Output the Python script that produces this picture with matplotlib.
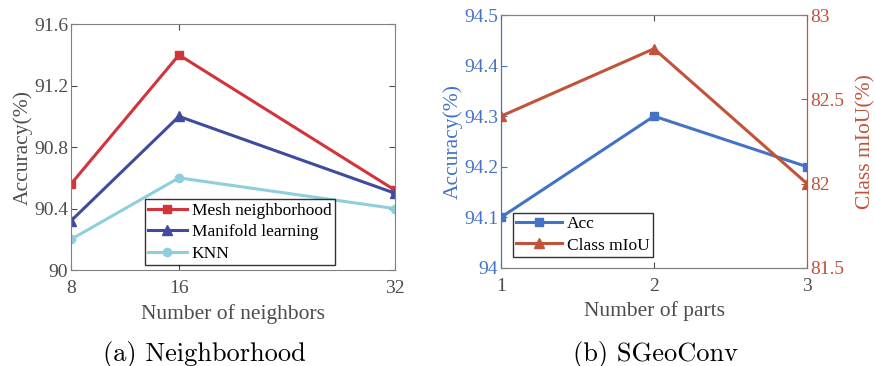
import matplotlib
matplotlib.use('Agg')
import matplotlib.pyplot as plt

# (a) Neighborhood
neighbors = [8, 16, 32]
mesh_acc = [90.56, 91.4, 90.52]
manifold_acc = [90.32, 91.0, 90.5]
knn_acc = [90.2, 90.6, 90.4]

# (b) SGeoConv
parts = [1, 2, 3]
part_acc = [94.1, 94.3, 94.2]
part_miou = [82.4, 82.8, 82.0]

serif = ['Liberation Serif', 'DejaVu Serif']
plt.rcParams['font.family'] = serif

gray = '#4d4d4d'
c_mesh = '#D1343A'
c_mani = '#3F4C9E'
c_knn = '#8ECFDE'
c_acc = '#4472C4'
c_miou = '#C0533A'

fig = plt.figure(figsize=(8.75, 3.66), dpi=100)

ax1 = fig.add_axes([0.0811, 0.262, 0.3703, 0.672])
ax1.plot(neighbors, mesh_acc, '-s', color=c_mesh, lw=2.2, ms=6, label='Mesh neighborhood')
ax1.plot(neighbors, manifold_acc, '-^', color=c_mani, lw=2.2, ms=7, label='Manifold learning')
ax1.plot(neighbors, knn_acc, '-o', color=c_knn, lw=2.2, ms=6, label='KNN')
ax1.set_xlim(8, 32)
ax1.set_ylim(90, 91.6)
ax1.set_xticks(neighbors)
ax1.set_yticks([90, 90.4, 90.8, 91.2, 91.6])
ax1.set_yticklabels(['90', '90.4', '90.8', '91.2', '91.6'])
ax1.tick_params(direction='in', top=True, right=True, labelsize=14, colors=gray, length=4, pad=2)
ax1.tick_params(axis='x', pad=7)
for s in ax1.spines.values():
    s.set_color('#808080')
ax1.set_xlabel('Number of neighbors', fontsize=15.5, color=gray, labelpad=5)
ax1.set_ylabel('Accuracy(%)', fontsize=15.5, color=gray, labelpad=1)
leg = ax1.legend(loc='lower left', bbox_to_anchor=(0.228, 0.02), fontsize=12.5, frameon=True,
                 fancybox=False, edgecolor='black', borderpad=0.2, labelspacing=0.3,
                 handlelength=2.2, handletextpad=0.3, borderaxespad=0.0)
leg.get_frame().set_linewidth(1.0)

ax2 = fig.add_axes([0.5726, 0.268, 0.3497, 0.691])
ax3 = ax2.twinx()
la, = ax2.plot(parts, part_acc, '-s', color=c_acc, lw=2.2, ms=6, label='Acc')
lm, = ax3.plot(parts, part_miou, '-^', color=c_miou, lw=2.2, ms=7, label='Class mIoU')
ax2.set_xlim(1, 3)
ax2.set_ylim(94, 94.5)
ax3.set_ylim(81.5, 83)
ax2.set_xticks(parts)
ax2.set_yticks([94, 94.1, 94.2, 94.3, 94.4, 94.5])
ax2.set_yticklabels(['94', '94.1', '94.2', '94.3', '94.4', '94.5'])
ax3.set_yticks([81.5, 82, 82.5, 83])
ax3.set_yticklabels(['81.5', '82', '82.5', '83'])
ax2.tick_params(axis='x', direction='in', top=True, labelsize=14, colors=gray, length=4, pad=7)
ax2.tick_params(axis='y', direction='in', labelsize=14, colors=c_acc, length=4, pad=2)
ax3.tick_params(axis='y', direction='in', labelsize=14, colors=c_miou, length=4, pad=2)
for ax in (ax2, ax3):
    ax.spines['top'].set_color('#808080')
    ax.spines['bottom'].set_color('#808080')
    ax.spines['left'].set_color(c_acc)
    ax.spines['right'].set_color(c_miou)
ax2.set_xlabel('Number of parts', fontsize=15.5, color=gray, labelpad=5)
ax2.set_ylabel('Accuracy(%)', fontsize=15.5, color=c_acc, labelpad=1)
ax3.set_ylabel('Class mIoU(%)', fontsize=15.5, color=c_miou, labelpad=9)
leg2 = ax2.legend([la, lm], ['Acc', 'Class mIoU'], loc='lower left', bbox_to_anchor=(0.039, 0.043),
                  fontsize=12.5, frameon=True, fancybox=False, edgecolor='black', borderpad=0.2,
                  labelspacing=0.3, handlelength=2.6, handletextpad=0.3, borderaxespad=0.0)
leg2.get_frame().set_linewidth(1.0)

fig.text(0.234, 0.015, '(a) Neighborhood', ha='center', fontsize=19, family='cmr10')
fig.text(0.749, 0.015, '(b) SGeoConv', ha='center', fontsize=19, family='cmr10')

fig.savefig('out.png', dpi=100)
